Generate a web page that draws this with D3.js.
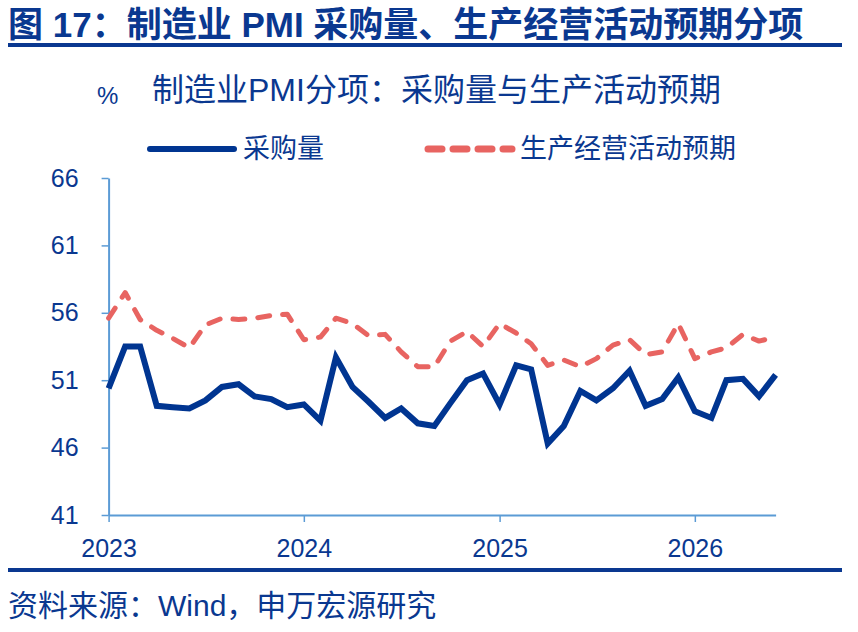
<!DOCTYPE html>
<html>
<head>
<meta charset="utf-8">
<script src="https://cdn.jsdelivr.net/npm/d3@7.9.0/dist/d3.min.js"></script>
<style>
  html, body { margin: 0; padding: 0; background: #fff; }
  svg { display: block; font-family: "Liberation Sans", Arial, "Noto Sans CJK SC", sans-serif; }
  .cjk { font-family: "Liberation Sans", "Noto Sans CJK SC", sans-serif; }
</style>
</head>
<body>
<script>
"use strict";

// Monthly data, Jan 2023 .. Jun 2026
const START_MONTH = new Date(2023, 0, 1);
const END_MONTH = new Date(2026, 5, 1);
const YEAR_TICKS = ["2023", "2024", "2025", "2026"];
const Y_TICKS = [41, 46, 51, 56, 61, 66];

const PURCHASE = [
    50.4, 53.5, 53.5, 49.1, 49.0, 48.9, 49.5, 50.5, 50.7, 49.8, 49.6, 49.0,
    49.2, 48.0, 52.7, 50.5, 49.4, 48.2, 48.9, 47.8, 47.6, 49.3, 51.0, 51.5,
    49.2, 52.1, 51.8, 46.3, 47.6, 50.2, 49.5, 50.4, 51.7, 49.1, 49.6, 51.2,
    48.7, 48.2, 51.0, 51.1, 49.8, 51.4
];
const EXPECTATION = [
    55.6, 57.5, 55.5, 54.7, 54.1, 53.4, 55.1, 55.6, 55.5, 55.6, 55.8, 55.9,
    54.0, 54.2, 55.6, 55.2, 54.3, 54.4, 53.1, 52.0, 52.0, 53.9, 54.6, 53.5,
    55.2, 54.5, 53.7, 52.1, 52.5, 52.0, 52.6, 53.6, 54.0, 52.9, 53.1, 55.2,
    52.6, 53.1, 53.4, 54.4, 53.9, 54.2
];
const SERIES_NAMES = ["采购量", "生产经营活动预期"];

const HEADER = "图 17：制造业 PMI 采购量、生产经营活动预期分项";
const CHART_TITLE = "制造业PMI分项：采购量与生产活动预期";
const SOURCE = "资料来源：Wind，申万宏源研究";

const NAVY = "#0a3890";
const BLUE = "#003591";
const RED = "#e86461";
const AXIS = "#5b9bd5";

const W = 858, H = 632;
const plot = { left: 108.6, right: 775.6, top: 178, bottom: 515 };

const months = d3.timeMonth.range(START_MONTH, d3.timeMonth.offset(END_MONTH, 1));

const svg = d3.select("body").append("svg")
    .attr("width", W)
    .attr("height", H);

// Header
svg.append("text")
    .attr("class", "cjk")
    .attr("x", 8)
    .attr("y", 37)
    .attr("fill", NAVY)
    .style("font-size", "35px")
    .style("font-weight", "bold")
    .text(HEADER);

svg.append("rect")
    .attr("x", 8).attr("y", 43)
    .attr("width", 834).attr("height", 4)
    .attr("fill", NAVY);

// Chart title
svg.append("text")
    .attr("x", 97).attr("y", 104)
    .attr("fill", NAVY)
    .style("font-size", "24px")
    .text("%");

svg.append("text")
    .attr("class", "cjk")
    .attr("x", 152).attr("y", 101)
    .attr("fill", NAVY)
    .style("font-size", "32px")
    .text(CHART_TITLE);

// Scales
const x = d3.scaleTime()
    .domain([START_MONTH, END_MONTH])
    .range([plot.left, plot.right]);

const y = d3.scaleLinear()
    .domain([41, 66])
    .range([plot.bottom, plot.top]);

// Axes
const xAxis = svg.append("g")
    .attr("transform", `translate(0, ${plot.bottom})`)
    .call(d3.axisBottom(x)
        .tickValues(YEAR_TICKS.map((yr) => new Date(+yr, 0, 1)))
        .tickFormat(d3.timeFormat("%Y"))
        .tickSize(7)
        .tickSizeOuter(0)
        .tickPadding(17));

const yAxis = svg.append("g")
    .attr("transform", `translate(${plot.left}, 0)`)
    .call(d3.axisLeft(y)
        .tickValues(Y_TICKS)
        .tickSize(7)
        .tickSizeOuter(0)
        .tickPadding(23));

for (const ax of [xAxis, yAxis]) {
    ax.select(".domain").attr("stroke", AXIS).attr("stroke-width", 2);
    ax.selectAll(".tick line").attr("stroke", AXIS).attr("stroke-width", 1.5);
    ax.selectAll(".tick text")
        .attr("fill", NAVY)
        .style("font-size", "25px")
        .style("font-family", "'Liberation Sans', Arial, sans-serif");
}

// Lines
const line = d3.line()
    .x((d, i) => x(months[i]))
    .y((d) => y(d));

svg.append("path")
    .datum(EXPECTATION)
    .attr("fill", "none")
    .attr("stroke", RED)
    .attr("stroke-width", 5)
    .attr("stroke-linecap", "round")
    .attr("stroke-linejoin", "round")
    .attr("stroke-dasharray", "12,13")
    .attr("d", line);

svg.append("path")
    .datum(PURCHASE)
    .attr("fill", "none")
    .attr("stroke", BLUE)
    .attr("stroke-width", 6)
    .attr("stroke-linejoin", "miter")
    .attr("d", line);

// Legend
const legend = svg.append("g").attr("class", "cjk");
legend.append("line")
    .attr("x1", 150).attr("x2", 234)
    .attr("y1", 149).attr("y2", 149)
    .attr("stroke", BLUE).attr("stroke-width", 6)
    .attr("stroke-linecap", "round");
legend.append("text")
    .attr("x", 243).attr("y", 158)
    .attr("fill", NAVY)
    .style("font-size", "27px")
    .text(SERIES_NAMES[0]);

legend.append("line")
    .attr("x1", 428).attr("x2", 512)
    .attr("y1", 149).attr("y2", 149)
    .attr("stroke", RED).attr("stroke-width", 7)
    .attr("stroke-linecap", "round")
    .attr("stroke-dasharray", "14,11");
legend.append("text")
    .attr("x", 520).attr("y", 158)
    .attr("fill", NAVY)
    .style("font-size", "27px")
    .text(SERIES_NAMES[1]);

// Footer
svg.append("rect")
    .attr("x", 8).attr("y", 568)
    .attr("width", 834).attr("height", 4)
    .attr("fill", NAVY);

svg.append("text")
    .attr("class", "cjk")
    .attr("x", 8).attr("y", 616)
    .attr("fill", NAVY)
    .style("font-size", "30px")
    .text(SOURCE);
</script>
</body>
</html>
